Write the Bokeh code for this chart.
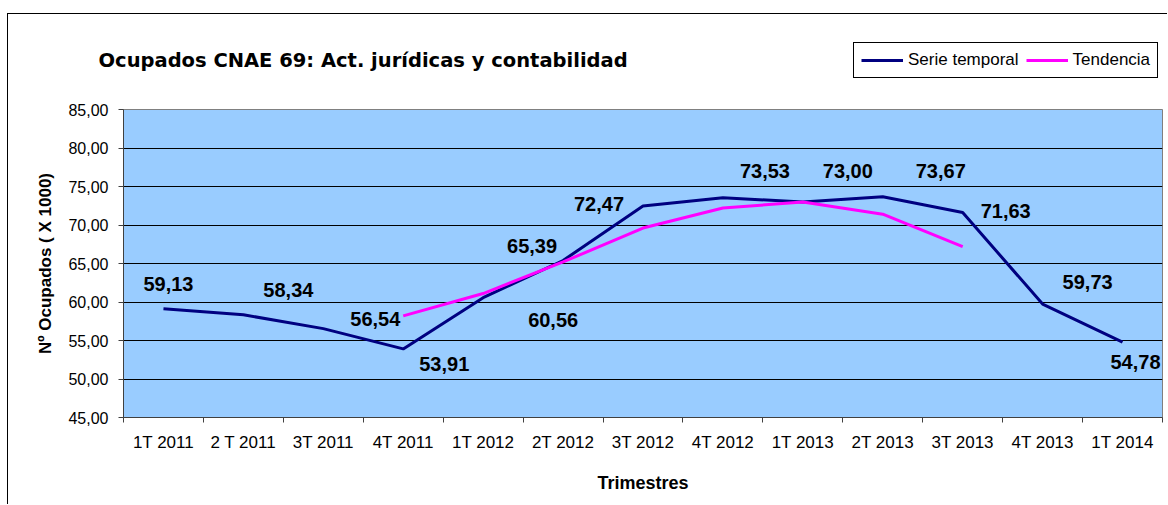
import numpy as np
from bokeh.plotting import figure
from bokeh.models import (ColumnDataSource, LabelSet, Label, Legend, LegendItem,
                          FixedTicker, CustomJSTickFormatter, Range1d)
from bokeh.core.properties import value
from bokeh.embed import file_html
from bokeh.resources import INLINE

# ---- data ----
quarters = ["1T 2011", "2 T 2011", "3T 2011", "4T 2011", "1T 2012", "2T 2012", "3T 2012",
            "4T 2012", "1T 2013", "2T 2013", "3T 2013", "4T 2013", "1T 2014"]
serie = [59.13, 58.34, 56.54, 53.91, 60.56, 65.39, 72.47, 73.53, 73.00, 73.67, 71.63, 59.73, 54.78]
trend_quarters = ["4T 2011", "1T 2012", "2T 2012", "3T 2012", "4T 2012", "1T 2013", "2T 2013", "3T 2013"]
tendencia = [58.2, 61.1, 65.2, 69.6, 72.2, 73.0, 71.4, 67.2]
y_ticks = [45, 50, 55, 60, 65, 70, 75, 80, 85]

title_text = "Ocupados CNAE 69: Act. jurídicas y contabilidad"
series_names = ["Serie temporal", "Tendencia"]
series_colors = ["#000080", "#FF00FF"]

# label offsets (screen px, x right / y up) for the data labels
label_dx = [5, 45, 52, 41, 70, -31, -44, 42, 45, 58, 43, 45, 13]
label_dy = [25, 25, 10, -15, -22, 14, 2, 27, 31, 26, 1, 22, -20]

n = len(quarters)
xc = np.arange(n) + 0.5
idx = {q: i for i, q in enumerate(quarters)}
xt = np.array([idx[q] for q in trend_quarters]) + 0.5

FONT = "Liberation Sans"
W = 1160
HEAD_H = 80
MAIN_H = 411

# ---------- header: title + legend ----------
h = figure(width=W, height=HEAD_H, output_backend="svg", toolbar_location=None, title=None,
           x_range=Range1d(0, 1), y_range=Range1d(0, 1),
           min_border_left=0, min_border_right=0, min_border_top=0, min_border_bottom=0,
           styles={"margin-left": "7px", "margin-top": "13px",
                   "border-left": "1px solid black", "border-top": "1px solid black"})
h.xaxis.visible = False
h.yaxis.visible = False
h.grid.visible = False
h.outline_line_color = None
h.background_fill_color = "white"
h.border_fill_color = "white"

# legend sample renderers (kept outside the visible range of the header)
d1 = h.line([2, 3], [2, 3], line_color=series_colors[0], line_width=3)
d2 = h.line([2, 3], [2, 3], line_color=series_colors[1], line_width=3)
legend = Legend(items=[LegendItem(label=series_names[0], renderers=[d1]),
                       LegendItem(label=series_names[1], renderers=[d2])],
                location=(845, 16), orientation="horizontal",
                border_line_color="black", border_line_width=1, border_line_alpha=1,
                background_fill_color="white", background_fill_alpha=1,
                label_text_font=FONT, label_text_font_size="17px", label_text_color="black",
                glyph_width=42, glyph_height=20, label_height=20,
                label_standoff=5, spacing=7, padding=7, margin=0)
h.add_layout(legend, "center")

h.add_layout(Label(x=90, y=34, x_units="screen", y_units="screen", text=title_text,
                   text_font="DejaVu Sans", text_font_style="bold", text_font_size="19.5px",
                   text_baseline="middle", text_align="left", text_color="black"))

# ---------- main chart ----------
p = figure(width=W, height=MAIN_H, output_backend="svg", toolbar_location=None,
           title=None, x_range=Range1d(0, n), y_range=Range1d(45, 85),
           min_border_left=115, min_border_right=6, min_border_top=16, min_border_bottom=87,
           styles={"margin-left": "7px", "border-left": "1px solid black"})
p.background_fill_color = "#99CCFF"
p.border_fill_color = "white"
p.outline_line_color = "#808080"
p.outline_line_width = 1

p.xgrid.visible = False
p.ygrid.ticker = FixedTicker(ticks=y_ticks)
p.ygrid.grid_line_color = "#000000"
p.ygrid.grid_line_width = 1

xa = p.xaxis[0]
xa.ticker = FixedTicker(ticks=list(xc), minor_ticks=list(range(n + 1)))
xa.formatter = CustomJSTickFormatter(args=dict(labels=quarters),
                                     code="return labels[Math.floor(tick)];")
xa.major_tick_line_color = None
xa.major_tick_out = 0
xa.major_tick_in = 0
xa.minor_tick_line_color = "#404040"
xa.minor_tick_out = 5
xa.minor_tick_in = 0
xa.axis_line_color = "#404040"
xa.major_label_text_font = FONT
xa.major_label_text_font_size = "17px"
xa.major_label_text_color = "black"
xa.major_label_standoff = 10
xa.axis_label = "Trimestres"
xa.axis_label_text_font = FONT
xa.axis_label_text_font_style = "bold"
xa.axis_label_text_font_size = "18px"
xa.axis_label_text_color = "black"
xa.axis_label_standoff = 18

ya = p.yaxis[0]
ya.ticker = FixedTicker(ticks=y_ticks, minor_ticks=[])
ya.formatter = CustomJSTickFormatter(code="return tick.toFixed(2).replace('.', ',');")
ya.major_tick_line_color = "#404040"
ya.major_tick_out = 5
ya.major_tick_in = 0
ya.minor_tick_line_color = None
ya.axis_line_color = "#404040"
ya.major_label_text_font = FONT
ya.major_label_text_font_size = "16px"
ya.major_label_text_color = "black"
ya.major_label_standoff = 10
ya.axis_label = "Nº Ocupados ( X 1000)"
ya.axis_label_text_font = FONT
ya.axis_label_text_font_style = "bold"
ya.axis_label_text_font_size = "17px"
ya.axis_label_text_color = "black"
ya.axis_label_standoff = 10

p.line(xc, serie, line_color=series_colors[0], line_width=3)
p.line(xt, tendencia, line_color=series_colors[1], line_width=3)

src = ColumnDataSource(dict(
    x=xc, y=serie,
    text=[f"{v:.2f}".replace(".", ",") for v in serie],
    dx=label_dx, dy=label_dy))
p.add_layout(LabelSet(x="x", y="y", text="text", source=src, x_offset="dx", y_offset="dy",
                      text_font=value(FONT), text_font_style="bold", text_font_size="20px",
                      text_align="center", text_baseline="middle", text_color="black"))

open("out.html", "w").write(file_html([h, p], INLINE))
